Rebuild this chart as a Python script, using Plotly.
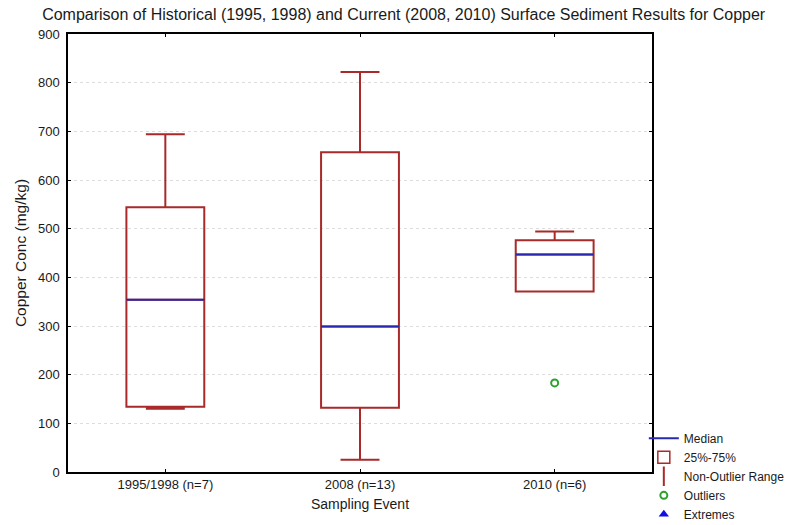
import plotly.graph_objects as go

categories = ["1995/1998 (n=7)", "2008 (n=13)", "2010 (n=6)"]
lower_whisker = [130, 25, 371]
q1 = [134, 132, 371]
median = [354, 299, 447]
q3 = [544, 657, 476]
upper_whisker = [694, 822, 494]
outlier_cat = [2]
outlier_val = [183]
y_ticks = [0, 100, 200, 300, 400, 500, 600, 700, 800, 900]

RED = "#A82A2A"
BLUE = "#2828B0"
GREEN = "#2CA02C"
half = 0.2

pos = list(range(len(categories)))
fig = go.Figure()
fig.add_trace(go.Box(
    x=pos, q1=q1, median=median, q3=q3,
    lowerfence=lower_whisker, upperfence=upper_whisker,
    width=2 * half, whiskerwidth=0.5,
    line=dict(color=RED, width=2), fillcolor="rgba(0,0,0,0)",
    showlegend=False, boxpoints=False, hoverinfo="skip",
))
# medians in blue
for i, m in zip(pos, median):
    fig.add_trace(go.Scatter(x=[i - half, i + half], y=[m, m], mode="lines",
                             line=dict(color=BLUE, width=2), showlegend=False, hoverinfo="skip"))
fig.add_trace(go.Scatter(x=outlier_cat, y=outlier_val, mode="markers",
                         marker=dict(symbol="circle-open", color=GREEN, size=7, line=dict(width=2)),
                         showlegend=False))
# legend entries
fig.add_trace(go.Scatter(x=[None], y=[None], mode="lines", name="Median",
                         line=dict(color=BLUE, width=2)))
fig.add_trace(go.Scatter(x=[None], y=[None], mode="markers", name="25%-75%",
                         marker=dict(symbol="square-open", color=RED, size=12, line=dict(width=1.5, color=RED))))
fig.add_trace(go.Scatter(x=[None], y=[None], mode="markers", name="Non-Outlier Range",
                         marker=dict(symbol="line-ns-open", color=RED, size=14, line=dict(width=2, color=RED))))
fig.add_trace(go.Scatter(x=[None], y=[None], mode="markers", name="Outliers",
                         marker=dict(symbol="circle-open", color=GREEN, size=7, line=dict(width=2, color=GREEN))))
fig.add_trace(go.Scatter(x=[None], y=[None], mode="markers", name="Extremes",
                         marker=dict(symbol="triangle-up", color="#1010E0", size=9)))

fig.update_layout(
    width=790, height=525,
    margin=dict(l=68, r=138, t=34, b=53, autoexpand=False),
    paper_bgcolor="white", plot_bgcolor="white",
    font=dict(family="Arial, Liberation Sans, sans-serif", size=13, color="#1a1a1a"),
    title=dict(text="Comparison of Historical (1995, 1998) and Current (2008, 2010) Surface Sediment Results for Copper",
               x=0.511, xref="container", xanchor="center", y=0.972, yanchor="middle",
               font=dict(size=16)),
    legend=dict(x=0.986, xanchor="left", y=0.11, yanchor="top", bgcolor="rgba(0,0,0,0)",
                font=dict(size=12), tracegroupgap=0, itemwidth=30),
)
fig.update_xaxes(range=[-0.5, 2.5], tickvals=pos, ticktext=categories,
                 showline=True, linecolor="black", linewidth=1.5, mirror="ticks",
                 ticks="inside", ticklen=3, tickcolor="black", showgrid=False, zeroline=False,
                 title=dict(text="Sampling Event", font=dict(size=14), standoff=8))
fig.update_yaxes(range=[0, 900], tickvals=y_ticks,
                 showline=True, linecolor="black", linewidth=1.5, mirror="ticks",
                 ticks="inside", ticklen=3, tickcolor="black",
                 showgrid=True, gridcolor="#DDDDDD", griddash="dot",
                 zeroline=False, ticklabelstandoff=4,
                 title=dict(text="Copper Conc (mg/kg)", font=dict(size=15.5), standoff=8))
fig.write_html("out.html", config={"displayModeBar": False},
               post_script="document.body.style.margin='0';")
